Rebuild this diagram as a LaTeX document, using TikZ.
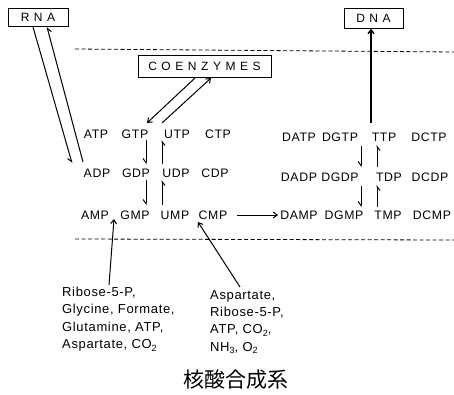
\documentclass[tikz,border=0pt]{standalone}
\usepackage{fontspec}
\setmainfont{Liberation Sans}
\newfontfamily\labfont[LetterSpace=5]{Liberation Sans}
\newfontfamily\boxfont[LetterSpace=38]{Liberation Sans}
\newfontfamily\cjkfont{Noto Sans CJK JP}
\usetikzlibrary{arrows.meta}
\newcommand\chemsub[1]{\raisebox{-0.4ex}{\fontsize{9}{9}\selectfont #1}}
\begin{document}
\begin{tikzpicture}[x=1pt,y=-1pt,
  lab/.style={inner sep=0pt, font=\labfont\fontsize{12.3}{12}\selectfont},
  box/.style={draw, line width=1pt, inner sep=0pt, font=\boxfont\fontsize{12}{12}\selectfont},
  conn/.style={line width=1pt},
  fullarr/.style={conn, -{Straight Barb[length=4pt,width=6pt]}},
  harp/.style={conn, -{Straight Barb[harpoon,swap,length=4pt,width=6pt]}},
  sep/.style={dash pattern=on 4pt off 2.5pt, line width=0.8pt},
  note/.style={inner sep=0pt, anchor=north west, align=left, font=\labfont\fontsize{13}{17.3}\selectfont}
]
\useasboundingbox (0,0) rectangle (454,394);

% boxes
\node[box, minimum width=60pt, minimum height=18pt] (rna) at (38,17) {RNA};
\node[box, minimum width=133pt, minimum height=22pt] (coenz) at (204.5,66) {COENZYMES};
\node[box, minimum width=59pt, minimum height=20pt] (dna) at (373.5,18) {DNA};

% dashed separators
\coordinate (d1a) at (75,49); \coordinate (d1b) at (454,52);
\coordinate (d2a) at (75,239); \coordinate (d2b) at (454,240);
\draw[sep] (d1a) -- (d1b);
\draw[sep] (d2a) -- (d2b);

% left nucleotides
\node[lab] (atp) at (96,134) {ATP};
\node[lab] (gtp) at (135,134) {GTP};
\node[lab] (utp) at (177,134) {UTP};
\node[lab] (ctp) at (218,134) {CTP};
\node[lab] (adp) at (97,173) {ADP};
\node[lab] (gdp) at (136,173) {GDP};
\node[lab] (udp) at (176,173) {UDP};
\node[lab] (cdp) at (215,173) {CDP};
\node[lab] (amp) at (95,215) {AMP};
\node[lab] (gmp) at (135,215) {GMP};
\node[lab] (ump) at (175,215) {UMP};
\node[lab] (cmp) at (213,215) {CMP};

% right deoxynucleotides
\node[lab] (datp) at (299,137) {DATP};
\node[lab] (dgtp) at (340,137) {DGTP};
\node[lab] (ttp) at (384,137) {TTP};
\node[lab] (dctp) at (429,137) {DCTP};
\node[lab] (dadp) at (299,177) {DADP};
\node[lab] (dgdp) at (340,177) {DGDP};
\node[lab] (tdp) at (389,177) {TDP};
\node[lab] (dcdp) at (430,177) {DCDP};
\node[lab] (damp) at (299,215) {DAMP};
\node[lab] (dgmp) at (344,215) {DGMP};
\node[lab] (tmp) at (388,215) {TMP};
\node[lab] (dcmp) at (432,215) {DCMP};

% precursor notes
\node[note] (pur) at (62,287) {Ribose-5-P,\\Glycine, Formate,\\Glutamine, ATP,\\Aspartate, CO\chemsub{2}};
\node[note] (pyr) at (210,290) {Aspartate,\\Ribose-5-P,\\ATP, CO\chemsub{2},\\NH\chemsub{3}, O\chemsub{2}};

% caption
\node[inner sep=0pt, font=\cjkfont\fontsize{21}{24}\selectfont] (cap) at (236,380) {核酸合成系};

% RNA <-> ADP
\coordinate (r1s) at (33,27); \coordinate (r1e) at (72,163);
\coordinate (r2s) at (83,162); \coordinate (r2e) at (47,27);
\draw[harp] (r1s) -- (r1e);
\draw[harp] (r2s) -- (r2e);

% COENZYMES <-> GTP/UTP
\coordinate (c1s) at (195,78); \coordinate (c1e) at (147,123);
\coordinate (c2s) at (162,123); \coordinate (c2e) at (211,78);
\draw[fullarr] (c1s) -- (c1e);
\draw[fullarr] (c2s) -- (c2e);

% left vertical pairs
\coordinate (lv1a) at (146,140); \coordinate (lv1b) at (146,164);
\coordinate (lv2a) at (162,164); \coordinate (lv2b) at (162,140);
\coordinate (lv3a) at (146,180); \coordinate (lv3b) at (146,205);
\coordinate (lv4a) at (162,205); \coordinate (lv4b) at (162,180);
\draw[harp] (lv1a) -- (lv1b);
\draw[harp] (lv2a) -- (lv2b);
\draw[harp] (lv3a) -- (lv3b);
\draw[harp] (lv4a) -- (lv4b);

% right vertical pairs
\coordinate (rv1a) at (361,146); \coordinate (rv1b) at (361,167);
\coordinate (rv2a) at (377,167); \coordinate (rv2b) at (377,145);
\coordinate (rv3a) at (361,186); \coordinate (rv3b) at (361,207);
\coordinate (rv4a) at (377,207); \coordinate (rv4b) at (377,185);
\draw[harp] (rv1a) -- (rv1b);
\draw[harp] (rv2a) -- (rv2b);
\draw[harp] (rv3a) -- (rv3b);
\draw[harp] (rv4a) -- (rv4b);

% TTP -> DNA
\coordinate (tt) at (371,123);
\draw[fullarr, line width=1.4pt] (tt) -- (tt |- dna.south);

% CMP -> DAMP
\coordinate (cm) at (237,215); \coordinate (da) at (278,215);
\draw[fullarr] (cm) -- (da);

% precursors -> AMP/GMP and CMP
\coordinate (p1s) at (109,285); \coordinate (p1e) at (114,219);
\coordinate (p2s) at (240,287); \coordinate (p2e) at (198,222);
\draw[fullarr] (p1s) -- (p1e);
\draw[fullarr] (p2s) -- (p2e);
\end{tikzpicture}
\end{document}
